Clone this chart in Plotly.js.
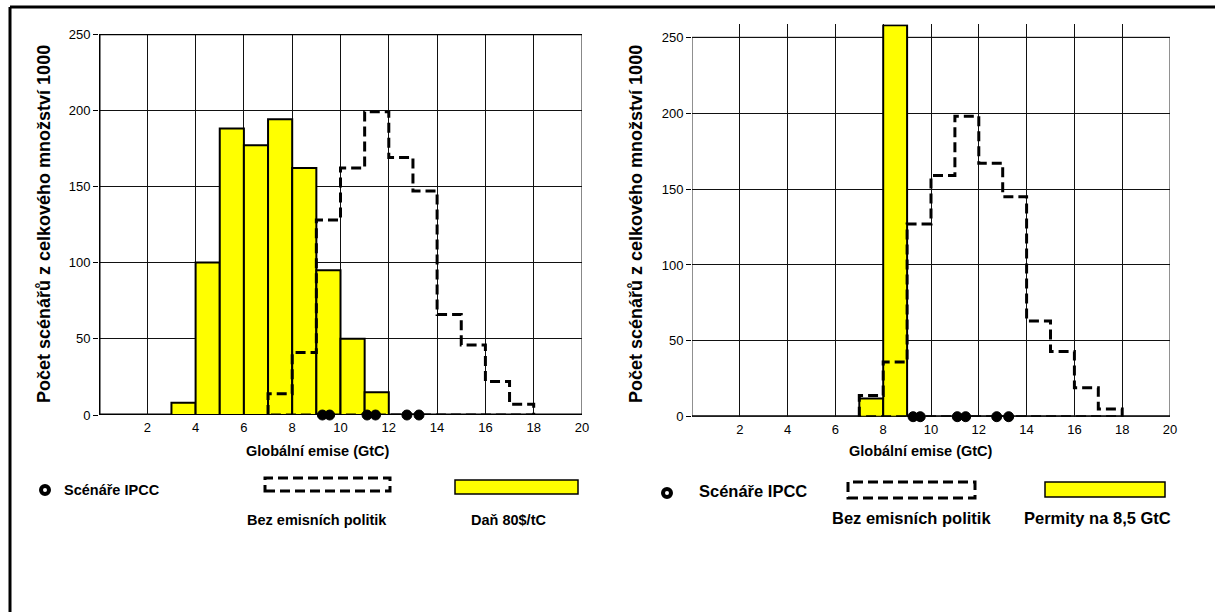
<!DOCTYPE html>
<html>
<head>
<meta charset="utf-8">
<script src="https://cdn.plot.ly/plotly-3.0.1.min.js"></script>
<style>html,body{margin:0;padding:0;background:#fff;}#chart{width:1215px;height:612px;}</style>
</head>
<body>
<div id="chart"></div>
<script>
// ---- data ----
const taxBinStarts = [3, 4, 5, 6, 7, 8, 9, 10, 11];
const taxCounts = [8, 100, 188, 177, 194, 162, 95, 50, 15];

const permitBinStarts = [7, 8];
const permitCounts = [12, 258];

const noPolicyBinStarts = [7, 8, 9, 10, 11, 12, 13, 14, 15, 16, 17];
const noPolicyLeft = [14, 41, 128, 162, 199, 169, 147, 66, 46, 22, 7];
const noPolicyRight = [14, 36, 127, 159, 198, 167, 145, 63, 43, 19, 5];

const ipccScenarios = [9.25, 9.55, 11.1, 11.45, 12.75, 13.25];

const xTicks = [2, 4, 6, 8, 10, 12, 14, 16, 18, 20];
const yTicks = [0, 50, 100, 150, 200, 250];

const xTitle = "Globální emise (GtC)";
const yTitle = "Počet scénářů z celkového množství 1000";
const legendIpcc = "Scénáře IPCC";
const legendNoPolicy = "Bez emisních politik";
const legendTax = "Daň 80$/tC";
const legendPermit = "Permity na 8,5 GtC";

// ---- helpers ----
function stepOutline(starts, vals) {
  const xs = [starts[0]], ys = [0];
  starts.forEach((s, i) => { xs.push(s, s + 1); ys.push(vals[i], vals[i]); });
  const end = starts[starts.length - 1] + 1;
  xs.push(end, starts[0]); ys.push(0, 0);
  return {x: xs, y: ys};
}

const W = 1215, H = 612;
const px = v => v / W;
const py = v => 1 - v / H;

const FONT = "Arial, 'Liberation Sans', sans-serif";
const DASH = '10px,5px';
const left = stepOutline(noPolicyBinStarts, noPolicyLeft);
const right = stepOutline(noPolicyBinStarts, noPolicyRight);

const dotMarker = {color: '#000', size: 10, symbol: 'circle', line: {color: '#000', width: 1}};

const traces = [
  {type: 'bar', x: taxBinStarts, y: taxCounts, width: 1, offset: 0,
   marker: {color: '#FFFF00', line: {color: '#000', width: 2}},
   xaxis: 'x', yaxis: 'y', showlegend: false, hoverinfo: 'skip'},
  {type: 'scatter', mode: 'lines', x: left.x, y: left.y,
   line: {color: '#000', width: 3, dash: DASH},
   xaxis: 'x', yaxis: 'y', showlegend: false, cliponaxis: false},
  {type: 'scatter', mode: 'markers', x: ipccScenarios, y: ipccScenarios.map(() => 0),
   marker: dotMarker, xaxis: 'x', yaxis: 'y', showlegend: false, cliponaxis: false},

  {type: 'bar', x: permitBinStarts, y: permitCounts, width: 1, offset: 0,
   marker: {color: '#FFFF00', line: {color: '#000', width: 2}},
   xaxis: 'x2', yaxis: 'y2', showlegend: false, hoverinfo: 'skip'},
  {type: 'scatter', mode: 'lines', x: right.x, y: right.y,
   line: {color: '#000', width: 3, dash: DASH},
   xaxis: 'x2', yaxis: 'y2', showlegend: false, cliponaxis: false},
  {type: 'scatter', mode: 'markers', x: ipccScenarios, y: ipccScenarios.map(() => 0),
   marker: dotMarker, xaxis: 'x2', yaxis: 'y2', showlegend: false, cliponaxis: false}
];

// right panel y range extends above 250 so the tall bar shows over the frame
const rightTopVal = 258.5;
const rTop = 416.7 - rightTopVal * (416.7 - 37.3) / 250;

const axX = {range: [0, 20], tickvals: xTicks, showgrid: true, gridcolor: '#111', gridwidth: 1,
  zeroline: false, showline: false, ticks: '', ticklabelstandoff: 3,
  tickfont: {family: FONT, size: 13, color: '#000'}, fixedrange: true};
const axY = {tickvals: yTicks, showgrid: true, gridcolor: '#111', gridwidth: 1,
  zeroline: false, showline: false, ticks: 'outside', ticklen: 5, tickcolor: '#000', tickwidth: 1,
  tickfont: {family: FONT, size: 13, color: '#000'}, fixedrange: true};

function txt(x, y, s, size, extra) {
  return Object.assign({xref: 'paper', yref: 'paper', x: px(x), y: py(y), xanchor: 'center', yanchor: 'middle',
    text: '<b>' + s + '</b>', showarrow: false, font: {family: FONT, size: size, color: '#000'}}, extra || {});
}

const layout = {
  width: W, height: H,
  margin: {l: 0, r: 0, t: 0, b: 0},
  paper_bgcolor: '#fff', plot_bgcolor: '#fff',
  showlegend: false,
  bargap: 0,
  xaxis: Object.assign({}, axX, {domain: [px(99), px(582)], anchor: 'y'}),
  yaxis: Object.assign({}, axY, {domain: [py(415), py(34)], range: [0, 250], anchor: 'x'}),
  xaxis2: Object.assign({}, axX, {domain: [px(692), px(1170)], anchor: 'y2'}),
  yaxis2: Object.assign({}, axY, {domain: [py(416.7), py(rTop)], range: [0, rightTopVal], anchor: 'x2'}),
  shapes: [
    // page frame
    {type: 'line', xref: 'paper', yref: 'paper', x0: px(10), x1: 1, y0: py(7), y1: py(7), line: {color: '#000', width: 3}},
    {type: 'line', xref: 'paper', yref: 'paper', x0: px(10), x1: px(10), y0: 0, y1: py(7), line: {color: '#000', width: 3}},
    // left panel frame
    {type: 'rect', xref: 'x', yref: 'y', x0: 0, x1: 20, y0: 0, y1: 250, line: {color: '#111', width: 1}, layer: 'below'},
    {type: 'line', xref: 'x', yref: 'y', x0: 0, x1: 20, y0: 250, y1: 250, line: {color: '#000', width: 2.5}},
    {type: 'line', xref: 'x', yref: 'y', x0: 0, x1: 0, y0: 0, y1: 250, line: {color: '#000', width: 3}},
    {type: 'line', xref: 'x', yref: 'y', x0: 0, x1: 20, y0: 0, y1: 0, line: {color: '#000', width: 3}, layer: 'below'},
    // right panel frame
    {type: 'rect', xref: 'x2', yref: 'y2', x0: 0, x1: 20, y0: 0, y1: 250, line: {color: '#222', width: 1}, layer: 'below'},
    {type: 'line', xref: 'x2', yref: 'y2', x0: 0, x1: 20, y0: 0, y1: 0, line: {color: '#000', width: 3}, layer: 'below'},
    // legend left
    {type: 'circle', xref: 'paper', yref: 'paper', x0: px(41), x1: px(49), y0: py(494), y1: py(486), fillcolor: '#fff', line: {color: '#000', width: 4}},
    {type: 'rect', xref: 'paper', yref: 'paper', x0: px(265), x1: px(390), y0: py(491), y1: py(478), line: {color: '#000', width: 3, dash: DASH}},
    {type: 'rect', xref: 'paper', yref: 'paper', x0: px(455), x1: px(578), y0: py(494), y1: py(480), fillcolor: '#FFFF00', line: {color: '#000', width: 1.5}},
    // legend right
    {type: 'circle', xref: 'paper', yref: 'paper', x0: px(663), x1: px(671), y0: py(497), y1: py(489), fillcolor: '#fff', line: {color: '#000', width: 4}},
    {type: 'rect', xref: 'paper', yref: 'paper', x0: px(848), x1: px(975), y0: py(498), y1: py(482), line: {color: '#000', width: 3, dash: DASH}},
    {type: 'rect', xref: 'paper', yref: 'paper', x0: px(1045), x1: px(1165), y0: py(497), y1: py(482), fillcolor: '#FFFF00', line: {color: '#000', width: 1.5}}
  ],
  annotations: [
    txt(318, 451, xTitle, 14.5),
    txt(921, 451, xTitle, 14.5),
    txt(44, 224, yTitle, 18, {textangle: -90}),
    txt(636, 224, yTitle, 18, {textangle: -90}),
    txt(62, 490, legendIpcc, 14.5, {xanchor: 'left'}),
    txt(317, 520, legendNoPolicy, 14.5),
    txt(508, 520, legendTax, 14.5),
    txt(697, 491, legendIpcc, 16.5, {xanchor: 'left'}),
    txt(911, 518, legendNoPolicy, 16.5),
    txt(1097, 518, legendPermit, 16.5)
  ]
};

Plotly.newPlot('chart', traces, layout, {displayModeBar: false, staticPlot: true});
</script>
</body>
</html>
